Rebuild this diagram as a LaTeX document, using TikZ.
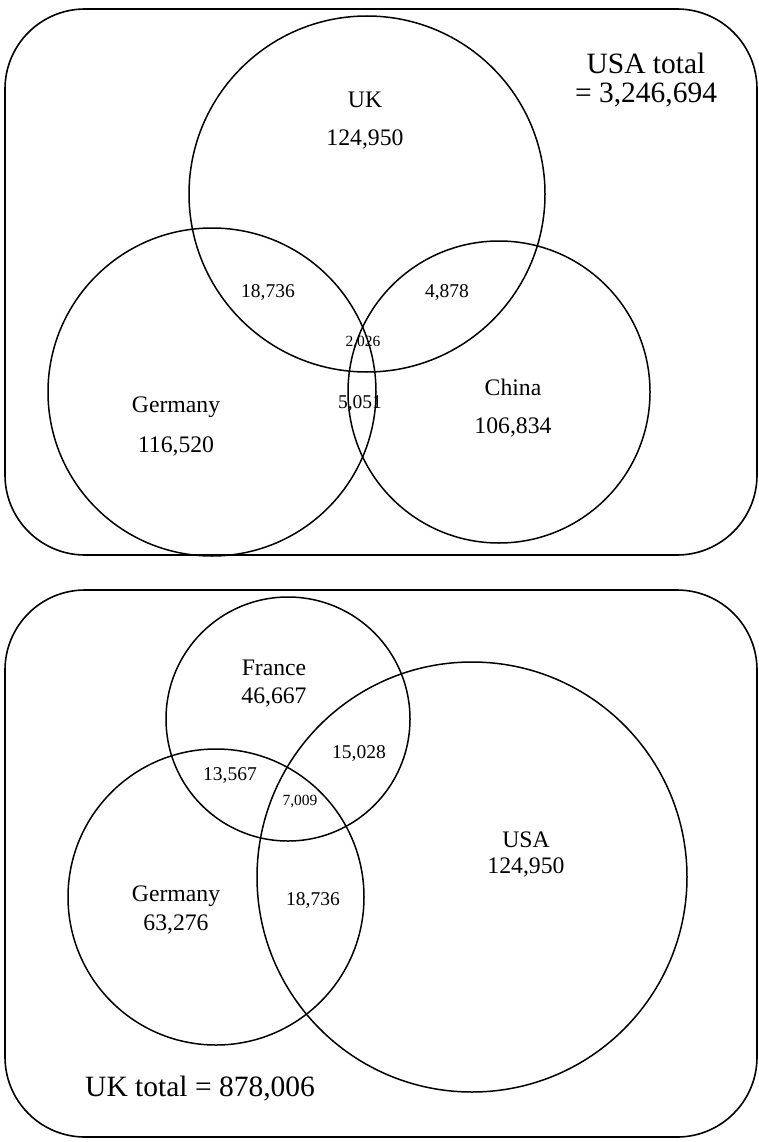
\documentclass[tikz,border=0pt]{standalone}
\usepackage{fontspec}
\setmainfont{Liberation Serif}
\begin{document}
\begin{tikzpicture}[x=1pt,y=-1pt,
  panel/.style={draw=black,line width=1.6pt,rounded corners=80pt},
  venn/.style={draw=black,line width=1.5pt,circle,inner sep=0pt},
  big/.style={font=\fontsize{29.5}{34}\selectfont,align=center,inner sep=0pt},
  mid/.style={font=\fontsize{23.7}{28}\selectfont,inner sep=0pt},
  sml/.style={font=\fontsize{19.5}{23}\selectfont,inner sep=0pt},
  tiny/.style={font=\fontsize{15.5}{18}\selectfont,inner sep=0pt}]
\useasboundingbox (0,0) rectangle (758,1142);
\fill[white] (0,0) rectangle (758,1142);
% top panel
\draw[panel] (5,9) rectangle (757,555);
\node[venn,minimum size=356pt] (uk) at (367,194) {};
\node[venn,minimum size=328pt] (de) at (212,392) {};
\node[venn,minimum size=302pt] (cn) at (499,392) {};
\node[big] (usatot) at (646,63) {USA total};
\node[big] (usaval) at (646,95) {= 3,246,694};
\node[mid] (ukl) at (365,100) {UK};
\node[mid] (ukv) at (365,139) {124,950};
\node[mid] (del) at (176,407) {Germany};
\node[mid] (dev) at (176,446) {116,520};
\node[mid] (cnl) at (513,387) {China};
\node[mid] (cnv) at (513,427) {106,834};
\node[sml] (ukde) at (268,293) {18,736};
\node[sml] (ukcn) at (447,293) {4,878};
\node[tiny] (all1) at (363,343) {2,026};
\node[sml] (decn) at (360,404) {5,051};
% bottom panel
\draw[panel] (5,590) rectangle (757,1137);
\node[venn,minimum size=244pt] (fr) at (288,719) {};
\node[venn,minimum size=296pt] (de2) at (216,897) {};
\node[venn,minimum size=430pt] (us) at (472,877) {};
\node[mid] (frl) at (274,668) {France};
\node[mid] (frv) at (274,697) {46,667};
\node[mid] (usl) at (526,840) {USA};
\node[mid] (usv) at (526,867) {124,950};
\node[mid] (de2l) at (176,896) {Germany};
\node[mid] (de2v) at (176,924) {63,276};
\node[sml] (frus) at (359,754) {15,028};
\node[sml] (frde) at (230,776) {13,567};
\node[tiny] (all2) at (300,802) {7,009};
\node[sml] (deus) at (313,901) {18,736};
\node[big,anchor=west] (uktot) at (85,1089) {UK total = 878,006};
\end{tikzpicture}
\end{document}
